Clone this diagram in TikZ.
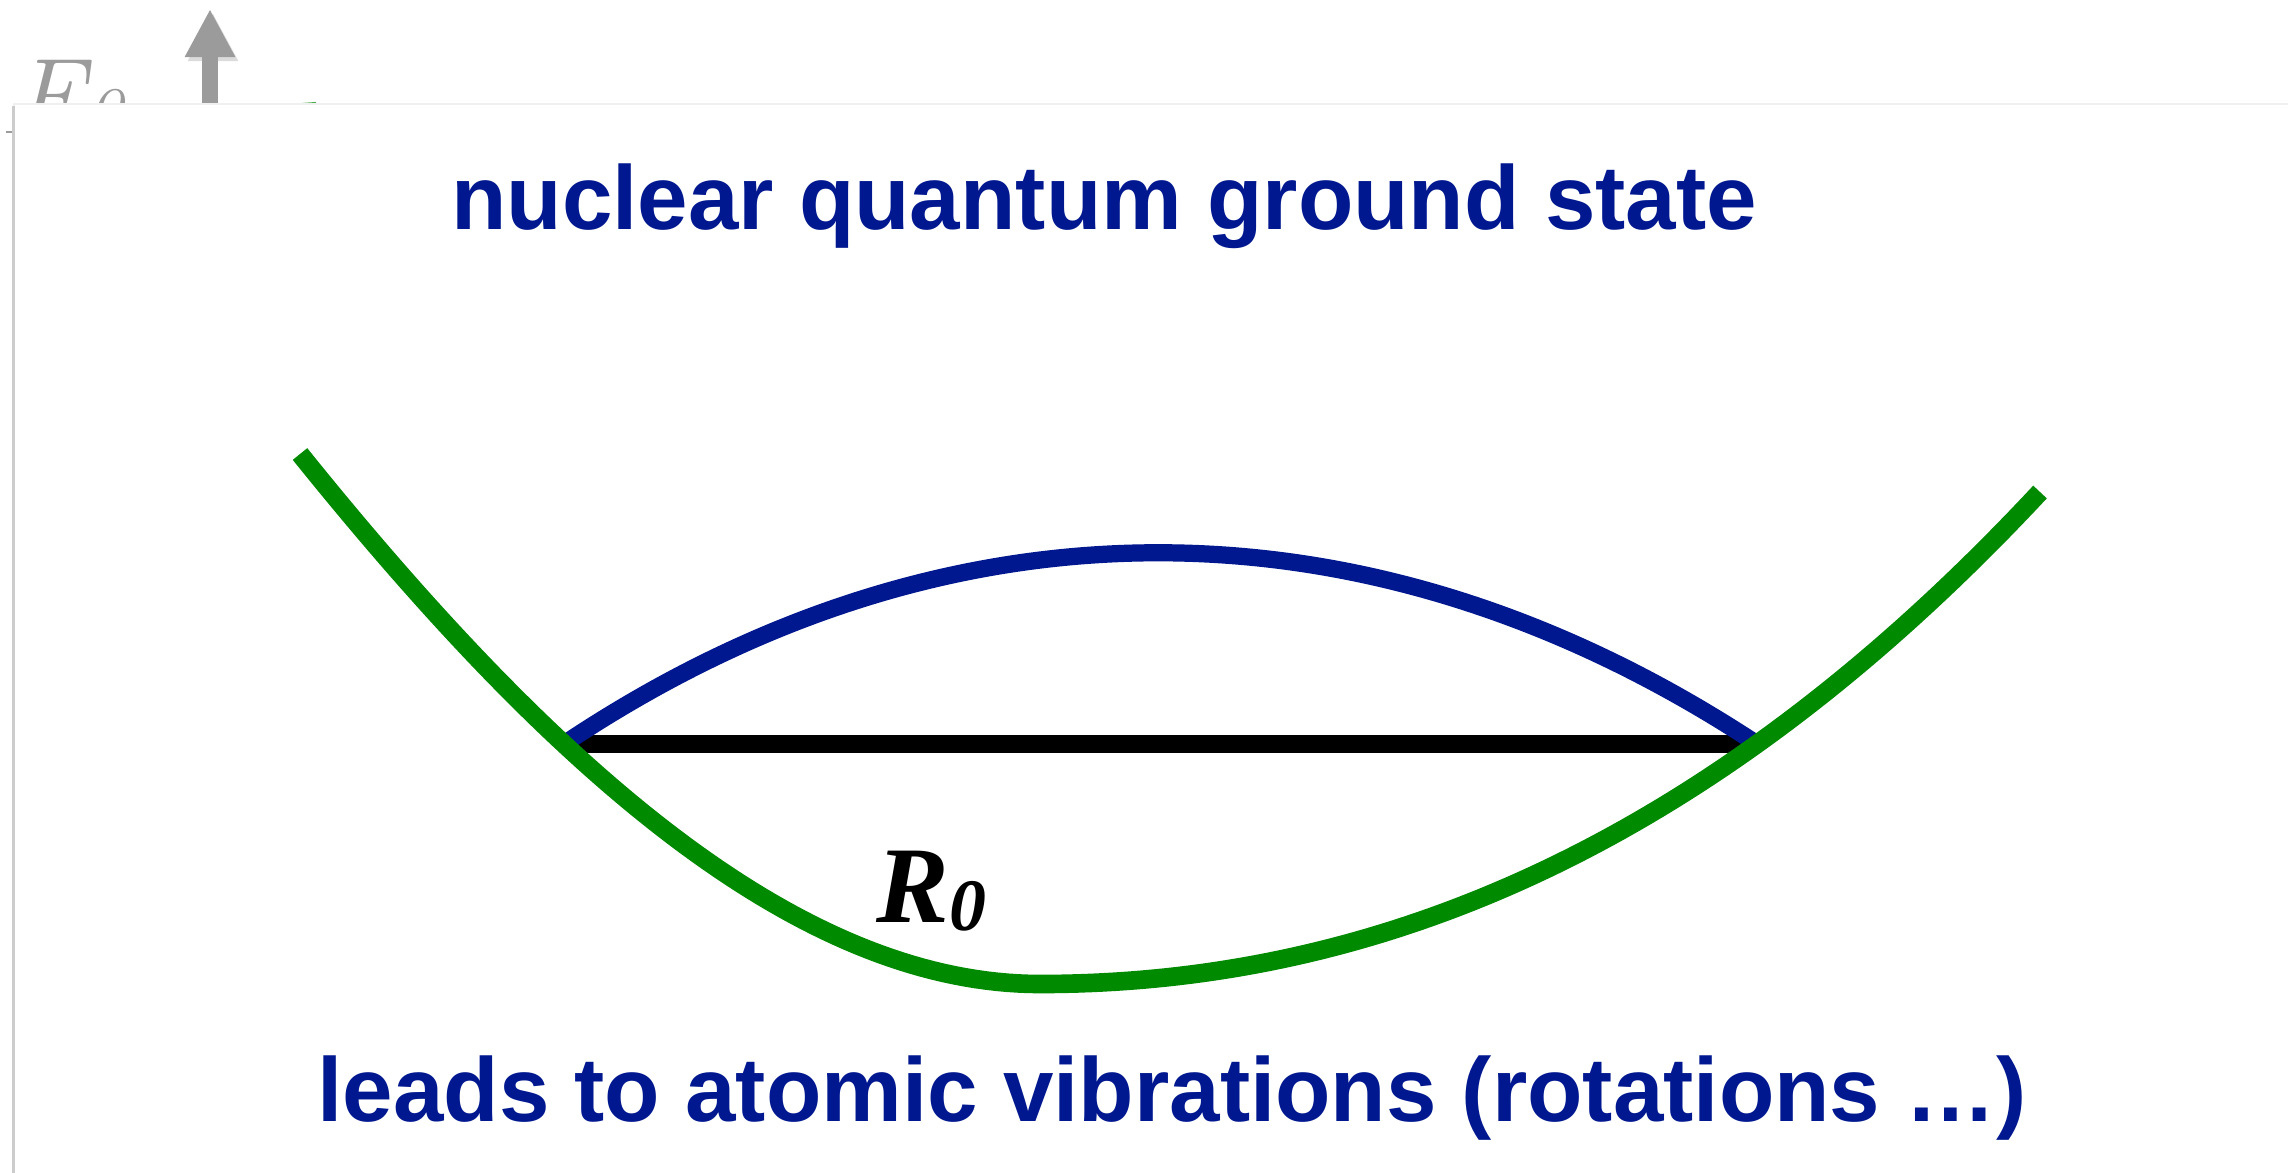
\documentclass[tikz,border=0pt]{standalone}
\usepackage{fontspec}
\usepackage{tikz}
\usetikzlibrary{arrows.meta}
\newfontfamily\arialfont{Liberation Sans}
\newfontfamily\timesfont{Liberation Serif}
\definecolor{titleblue}{RGB}{0,24,143}
\definecolor{wavegreen}{RGB}{0,138,0}
\definecolor{axisgray}{RGB}{155,155,155}

\begin{document}
\begin{tikzpicture}[
      x=0.01cm, y=-0.01cm,
      heading/.style = {
        inner sep=0pt, anchor=base, text=titleblue,
        font=\arialfont\bfseries\fontsize{25.8}{30}\selectfont
      },
      lifted/.style = {
        preaction={draw=black, opacity=0.14, transform canvas={shift={(3,4)}}}
      },
      potential/.style = {draw=wavegreen, line width=5.3pt, lifted},
      groundwave/.style = {draw=titleblue, line width=4.9pt, lifted},
      level/.style = {draw=black, line width=5.1pt, lifted},
      axis/.style = {
        draw=axisgray, line width=4.5pt, lifted,
        -{Triangle[width=13.4pt, length=13.7pt]}
      }
    ]

    \useasboundingbox (0,0) rectangle (2288,1172);

    % what shows behind the slide
    \node[anchor=base west, inner sep=0pt, text=axisgray,
      font=\itshape\fontsize{31}{31}\selectfont] (energy) at (12,134)
      {E\raisebox{-1.7pt}{\fontsize{21.5}{21.5}\selectfont 0}};
    \coordinate (axis foot) at (210,200);
    \coordinate (axis top)  at (210,9);
    \draw[axis] (axis foot) -- (axis top);
    \draw[draw=axisgray, line width=0.6pt] (6,132) -- (16,132);
    \draw[draw=wavegreen!70, line width=0.6pt] (302,104) -- (316,103);

    \fill[black!6]  (13,103) rectangle (2300,1180);
    \fill[black!20] (12,106) rectangle (15,1180);
    \fill[white]    (15,105) rectangle (2300,1180);

    \node[heading] (title)  at (1104,229)  {nuclear quantum ground state};
    \node[heading] (footer) at (1172,1121) {leads to atomic vibrations (rotations \dots)};

    \coordinate (left turn)  at (564,744);
    \coordinate (right turn) at (1757,744);

    \draw[level] (left turn) -- (right turn);
    \draw[groundwave] (left turn) .. controls (945,489) and (1370,489) .. (right turn);

    % asymmetric well, bottom at (1040,984)
    \draw[potential]
      plot[domain=300:1040, samples=70]
        (\x, {984 - 12.241*((1040-\x)/100)^2 + 0.3463*((1040-\x)/100)^3})
      -- plot[domain=1040:2040, samples=80]
        (\x, {984 - 4.031*((\x-1040)/100)^2 - 0.0889*((\x-1040)/100)^3});

    \node[anchor=base west, inner sep=0pt,
      font=\timesfont\bfseries\itshape\fontsize{31}{31}\selectfont]
      (bondlength) at (876,922) {R\raisebox{-2.5pt}{\fontsize{21}{21}\selectfont 0}};

  \end{tikzpicture}
\end{document}
